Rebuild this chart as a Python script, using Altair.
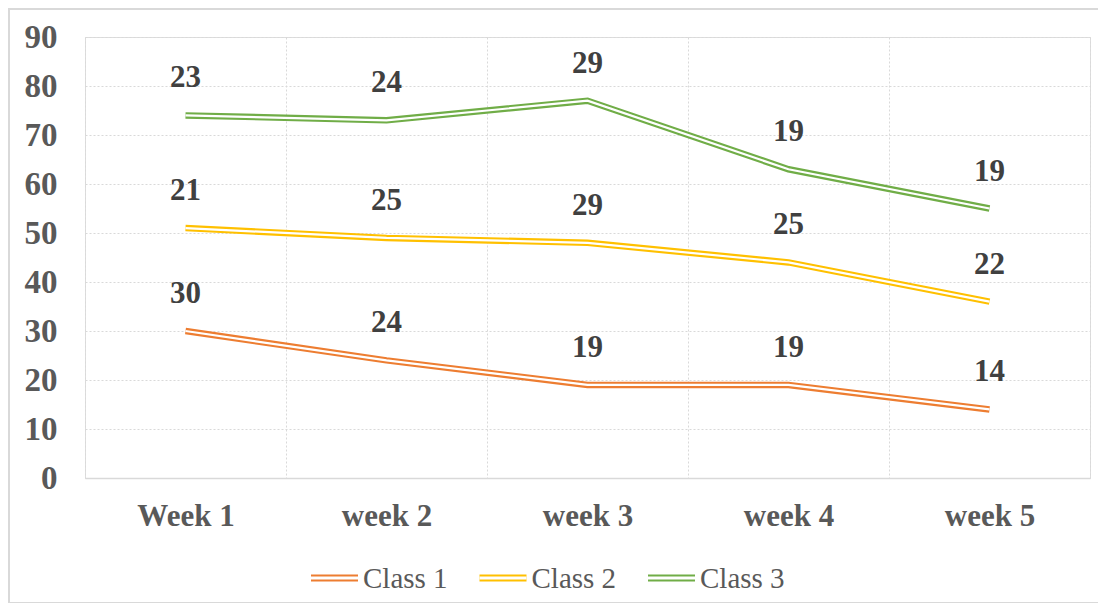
import altair as alt
import pandas as pd

weeks = ["Week 1", "week 2", "week 3", "week 4", "week 5"]
classes = ["Class 1", "Class 2", "Class 3"]
class1 = [30, 24, 19, 19, 14]
class2 = [21, 25, 29, 25, 22]
class3 = [23, 24, 29, 19, 19]
colors = ["#ED7D31", "#FFC000", "#70AD47"]

rows = []
for ci, (cname, vals) in enumerate(zip(classes, [class1, class2, class3])):
    for w, v in zip(weeks, vals):
        rows.append({"week": w, "cls": cname, "order": ci, "value": v})
df = pd.DataFrame(rows)

FONT = "Liberation Serif, Times New Roman, serif"
W, H = 1005, 441

x_enc = alt.X("week:N", sort=weeks, title=None,
              scale=alt.Scale(type="band", paddingInner=0, paddingOuter=0),
              axis=alt.Axis(labelAngle=0, tickBand="extent", grid=True, gridColor="#d9d9d9",
                            gridDash=[2, 2], ticks=False, domain=True, domainColor="#d9d9d9",
                            domainWidth=1.5, labelFont=FONT, labelFontSize=31,
                            labelFontWeight="bold", labelColor="#595959", labelPadding=23))
y_enc = alt.Y("cum:Q", title=None,
              scale=alt.Scale(domain=[0, 90], nice=False),
              axis=alt.Axis(values=list(range(0, 91, 10)), grid=True, gridColor="#d9d9d9",
                            gridDash=[2, 2], ticks=False, domain=False, labelFont=FONT,
                            labelFontSize=33, labelFontWeight="bold", labelColor="#595959",
                            labelPadding=28))
color_enc = alt.Color("cls:N", scale=alt.Scale(domain=classes, range=colors), legend=None)

base = alt.Chart(df).transform_window(
    cum="sum(value)", groupby=["week"], sort=[alt.SortField("order")], frame=[None, 0]
)

thick = base.mark_line(strokeWidth=6.5, strokeCap="butt").encode(x=x_enc, y=y_enc, color=color_enc, detail="cls:N")
thin = base.mark_line(strokeWidth=2.2, color="white", strokeCap="butt").encode(
    x=alt.X("week:N", sort=weeks), y="cum:Q", detail="cls:N")
labels = base.mark_text(font=FONT, fontSize=31, fontWeight="bold", color="#404040", dy=-37).encode(
    x=alt.X("week:N", sort=weeks), y="cum:Q", text="value:Q")

# legend
leg = pd.DataFrame({"cls": classes, "idx": [0, 1, 2]})
legbase = alt.Chart(leg).transform_calculate(
    x0="226 + datum.idx * 168.5", x1="226 + datum.idx * 168.5 + 47",
    xt="226 + datum.idx * 168.5 + 52", yy="541"
)
leg_thick = legbase.mark_rule(strokeWidth=7).encode(
    x=alt.X("x0:Q", scale=None), x2="x1:Q", y=alt.Y("yy:Q", scale=None),
    color=alt.Color("cls:N", scale=alt.Scale(domain=classes, range=colors), legend=None))
leg_thin = legbase.mark_rule(strokeWidth=3, color="white").encode(
    x=alt.X("x0:Q", scale=None), x2="x1:Q", y=alt.Y("yy:Q", scale=None))
leg_text = legbase.mark_text(font=FONT, fontSize=29, color="#595959", align="left", baseline="middle", dy=1).encode(
    x=alt.X("xt:Q", scale=None), y=alt.Y("yy:Q", scale=None), text="cls:N")

frame = alt.Chart(leg).mark_rect(fill=None, stroke="#d9d9d9", strokeWidth=2).encode(
    x=alt.value(-76), x2=alt.value(1016), y=alt.value(-28), y2=alt.value(566))

chart = alt.layer(frame, thick, thin, labels, leg_thick, leg_thin, leg_text).properties(
    width=W, height=H,
    autosize=alt.AutoSizeParams(type="none"),
    padding={"left": 77, "top": 29, "right": 8, "bottom": 125},
).configure_view(stroke=None).configure(background="white")

chart.save("out.html", embed_options={"renderer": "svg", "actions": False})
